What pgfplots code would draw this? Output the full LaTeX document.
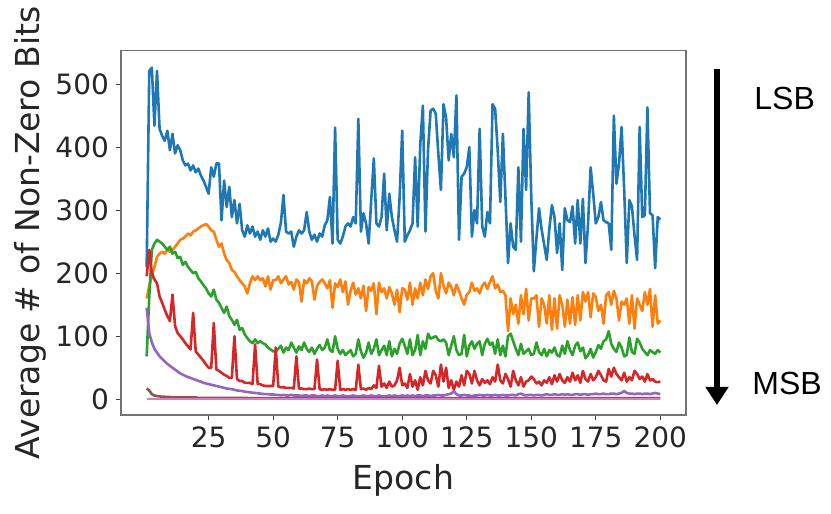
\documentclass[border=0pt]{standalone}
\usepackage{fontspec}
\setmainfont{DejaVu Sans}
\newfontfamily\arialfont{Liberation Sans}
\usepackage{pgfplots}
\usepackage{pgfplotstable}
\pgfplotsset{compat=1.18}
\usetikzlibrary{arrows.meta}
\definecolor{c0}{HTML}{1F77B4}
\definecolor{c1}{HTML}{FF7F0E}
\definecolor{c2}{HTML}{2CA02C}
\definecolor{c3}{HTML}{D62728}
\definecolor{c4}{HTML}{9467BD}
\definecolor{c5}{HTML}{8C564B}
\definecolor{c6}{HTML}{E377C2}
\pgfplotstableread{
x c0 c1 c2 c3 c4 c5 c6
1 210 160 68 195 145 17 0.5
2 521 180 163 237 105 14 0.5
3 526 195 237 200 90 8 0.5
4 434 210 247 190 80 6 0.5
5 521 226 253 184 74 5 0.5
6 429 231 250 163 68 4.5 0.5
7 418 234 247 153 64 4 0.5
8 410 231 242 142 60 4 0.5
9 426 237 237 132 56 3.5 0.5
10 395 234 242 124 53 3.5 0.5
11 421 237 231 166 50 3 0.5
12 390 242 234 116 47 3 0.5
13 403 247 224 105 44 3 0.5
14 395 253 226 100 41 3 0.5
15 379 255 213 95 39 3 0.5
16 371 258 218 89 37 3 0.5
17 374 263 210 84 35 3 0.5
18 363 260 205 79 34 3 0.5
19 371 266 200 137 32 3 0.5
20 360 268 202 76 31 3 0.5
21 366 271 192 71 29 2 0.5
22 355 274 187 66 28 2 0.5
23 347 276 181 61 26 2 0.5
24 337 278 176 55 25 2 0.5
25 326 274 168 50 24 2 0.5
26 368 268 163 50 23 2 0.5
27 353 266 174 121 22 2 0.5
28 374 253 158 47 21 2 0.5
29 374 242 153 45 20 2 0.5
30 284 247 145 42 19 2 0.5
31 347 231 137 39 18 2 0.5
32 305 221 147 37 17 2 0.5
33 337 216 132 34 16.5 2 0.5
34 289 205 126 34 16 2 0.5
35 316 202 118 100 15 2 0.5
36 279 195 126 32 14 2 0.5
37 310 189 110 29 13.5 2 0.5
38 268 184 113 29 13 2 0.5
39 258 179 103 26 12 2 0.5
40 276 168 97 26 11.5 2 0.5
41 263 184 92 26 11 1.5 0.5
42 274 195 89 24 10.5 1.5 0.5
43 258 189 95 87 10 1.5 0.5
44 266 195 89 24 9.5 1.5 0.5
45 253 189 92 24 9 1.5 0.5
46 268 192 89 22 8.5 1.5 0.5
47 258 179 87 21 8 1.5 0.5
48 271 195 82 21 8 1.5 0.5
49 250 174 79 21 7.5 1.5 0.5
50 255 189 76 21 7.5 1.5 0.5
51 250 189 76 82 7 1.5 0.5
52 261 195 80 20 7 1.5 0.5
53 280 184 85 19 6 1.5 0.5
54 324 190 74 19 7 1.5 0.5
55 266 195 82 18 6 1.5 0.5
56 263 182 78 18 6 1.5 0.5
57 266 186 90 18 7 1.5 0.5
58 242 174 82 17 6 1.5 0.5
59 258 190 74 68 6 1.5 0.5
60 268 186 84 17 6 1.5 0.5
61 263 155 78 17 5 1.5 0.5
62 268 189 90 16 6 1.5 0.5
63 297 184 80 16 6 1.5 0.5
64 266 192 75 17 5 1.5 0.5
65 253 187 82 16 6 1.5 0.5
66 261 158 72 16 6 1.5 0.5
67 250 180 80 63 5 1.5 0.5
68 263 186 86 16 5 1.5 0.5
69 258 190 78 15 6 1.5 0.5
70 276 184 82 16 5 1.5 0.5
71 284 176 95 15 6 1.5 0.5
72 321 189 78 16 5 1.5 0.5
73 247 145 75 15 5 1.5 0.5
74 431 184 100 15 6 1.5 0.5
75 253 178 80 61 5 1.5 0.5
76 247 190 72 15 5 1.5 0.5
77 258 170 78 16 6 1.5 0.5
78 274 187 70 15 5 1.5 0.5
79 279 150 74 16 5 1.5 0.5
80 274 172 78 15 5 1.5 0.5
81 289 185 68 16 6 1.5 0.5
82 279 166 72 15 5 1.5 0.5
83 445 176 95 55 5 1.5 0.5
84 266 160 76 16 5 1.5 0.5
85 295 180 66 17 6 1.5 0.5
86 279 140 74 15 5 1.5 0.5
87 247 178 90 18 5 1.5 0.5
88 316 172 72 16 6 1.5 0.5
89 382 184 80 22 5 1.5 0.5
90 279 135 95 18 5 1.5 0.5
91 274 185 70 53 6 1.5 0.5
92 289 170 78 20 5 1.5 0.5
93 358 176 85 25 5 1.5 0.5
94 268 160 70 18 5 1.5 0.5
95 326 178 92 28 6 1.5 0.5
96 289 168 68 20 5 1.5 0.5
97 268 150 80 22 6 1.5 0.5
98 250 174 72 30 5 1.5 0.5
99 321 138 88 50 5 1.5 0.5
100 426 176 96 22 6 1.5 0.5
101 250 174 85 25 5 1.5 0.5
102 260 158 72 18 6 1.5 0.5
103 268 185 95 40 5 1.5 0.5
104 279 150 70 20 6 1.5 0.5
105 384 176 78 30 5 1.5 0.5
106 274 160 102 15 6 1.5 0.5
107 405 185 70 35 6 1.5 0.5
108 466 165 92 22 5 1.5 0.5
109 266 190 80 45 6 1.5 0.5
110 395 175 104 30 6 1.5 0.5
111 458 195 96 25 5 1.5 0.5
112 461 200 98 45 6 1.5 0.5
113 453 172 100 38 6 1.5 0.5
114 389 160 94 20 7 1.5 0.5
115 332 200 92 55 6 1.5 0.5
116 468 180 95 28 6 1.5 0.5
117 447 168 90 50 7 1.5 0.5
118 379 185 70 18 8 1.5 0.5
119 421 178 85 30 9 1.5 0.5
120 384 165 100 15 13 1.5 0.5
121 482 182 78 28 8 1.5 0.5
122 253 172 70 20 6 1.5 0.5
123 353 160 72 38 6 1.5 0.5
124 358 150 102 22 7 1.5 0.5
125 368 166 68 45 6 1.5 0.5
126 400 170 85 40 6 1.5 0.5
127 258 185 92 25 5 1.5 0.5
128 300 172 80 45 6 1.5 0.5
129 279 176 88 30 6 1.5 0.5
130 429 168 92 22 7 1.5 0.5
131 274 180 70 32 6 1.5 0.5
132 258 185 88 26 6 1.5 0.5
133 297 175 96 30 7 1.5 0.5
134 279 186 86 24 6 1.5 0.5
135 468 195 90 35 6 1.5 0.5
136 461 176 72 28 7 1.5 0.5
137 395 182 95 55 6 1.5 0.5
138 313 170 70 30 6 1.5 0.5
139 421 172 85 25 7 1.5 0.5
140 321 165 68 40 6 1.5 0.5
141 216 108 100 32 6 1.5 0.5
142 279 160 104 20 7 1.5 0.5
143 242 135 92 45 7 1.5 0.5
144 237 150 80 30 6 1.5 0.5
145 368 120 70 22 8 1.5 0.5
146 250 165 88 35 9 1.5 0.5
147 429 135 72 20 7 1.5 0.5
148 332 175 76 28 6 1.5 0.5
149 487 125 80 30 7 1.5 0.5
150 321 160 70 36 7 1.5 0.5
151 203 160 72 32 6 1.5 0.5
152 255 165 90 25 7 1.5 0.5
153 303 115 75 28 7 1.5 0.5
154 270 160 70 22 6 1.5 0.5
155 245 150 80 30 7 1.5 0.5
156 221 120 68 26 8 1.5 0.5
157 270 165 78 35 7 1.5 0.5
158 308 110 74 24 7 1.5 0.5
159 289 160 82 38 8 1.5 0.5
160 232 112 70 28 7 1.5 0.5
161 279 165 68 40 7 1.5 0.5
162 205 150 85 30 8 1.5 0.5
163 303 115 72 26 7 1.5 0.5
164 284 158 92 35 8 1.5 0.5
165 281 120 78 28 7 1.5 0.5
166 306 162 70 42 7 1.5 0.5
167 247 118 85 30 8 1.5 0.5
168 316 165 90 38 8 1.5 0.5
169 247 125 76 26 7 1.5 0.5
170 318 170 82 45 8 1.5 0.5
171 216 155 65 32 8 1.5 0.5
172 279 170 70 28 7 1.5 0.5
173 368 130 80 40 8 1.5 0.5
174 326 168 66 30 8 1.5 0.5
175 279 162 75 35 9 1.5 0.5
176 289 140 86 45 8 1.5 0.5
177 313 150 80 38 8 1.5 0.5
178 284 120 92 30 9 1.5 0.5
179 281 165 95 28 8 1.5 0.5
180 279 170 108 48 8 1.5 0.5
181 237 150 88 36 9 1.5 0.5
182 450 172 80 50 9 1.5 0.5
183 342 160 75 40 8 1.5 0.5
184 374 125 90 35 9 1.5 0.5
185 432 155 82 30 10 1.5 0.5
186 332 150 68 42 13 1.5 0.5
187 216 160 70 28 10 1.5 0.5
188 316 120 98 35 9 1.5 0.5
189 306 165 75 30 9 1.5 0.5
190 260 112 72 45 8 1.5 0.5
191 221 160 96 40 9 1.5 0.5
192 432 150 90 32 9 1.5 0.5
193 289 140 80 36 8 1.5 0.5
194 292 170 75 28 9 1.5 0.5
195 463 150 70 40 9 1.5 0.5
196 295 175 78 30 8 1.5 0.5
197 292 115 75 32 9 1.5 0.5
198 208 165 72 28 10 1.5 0.5
199 289 120 78 27 9 1.5 0.5
200 285 125 74 28 8 1.5 0.5
}\datatable
\begin{document}
\begin{tikzpicture}
\useasboundingbox (0,0) rectangle (415.5pt,257pt);
\begin{axis}[
  at={(60.5pt,49.5pt)}, anchor=south west,
  scale only axis, width=282.5pt, height=182.15pt,
  xmin=-8.95, xmax=209.95, ymin=-25, ymax=553,
  xtick={25,50,...,200}, ytick={0,100,...,500},
  xtick pos=left, ytick pos=left,
  tick align=outside, major tick length=2.5pt,
  axis line style={black!55, line width=0.6pt},
  tick style={black!75, line width=0.5pt},
  /pgf/number format/assume math mode=true,
  tick label style={font=\fontsize{14}{14}\selectfont, text=black!85},
  label style={font=\fontsize{16.5}{16.5}\selectfont, text=black!85},
  xlabel={Epoch}, ylabel={Average \# of Non-Zero Bits},
  xlabel style={at={(axis description cs:0.5,-0.18)}, anchor=center},
  ylabel style={at={(axis description cs:-0.161,0.5)}, anchor=center, rotate=0},
  every axis plot/.append style={line width=1.3pt, line join=round, no markers},
]
\addplot[c0] table[x=x, y=c0] {\datatable};
\addplot[c1] table[x=x, y=c1] {\datatable};
\addplot[c2] table[x=x, y=c2] {\datatable};
\addplot[c3] table[x=x, y=c3] {\datatable};
\addplot[c4] table[x=x, y=c4] {\datatable};
\addplot[c5] table[x=x, y=c5] {\datatable};
\addplot[c6] table[x=x, y=c6] {\datatable};
\end{axis}
\draw[line width=3pt, -{Triangle[width=11pt,length=9pt]}] (358.5pt,222.5pt) -- (358.5pt,54.5pt);
\node[anchor=base west, inner sep=0pt, font=\arialfont\fontsize{16}{16}\selectfont] at (377pt,202pt) {LSB};
\node[anchor=base west, inner sep=0pt, font=\arialfont\fontsize{16}{16}\selectfont] at (376pt,59.5pt) {MSB};
\end{tikzpicture}
\end{document}
